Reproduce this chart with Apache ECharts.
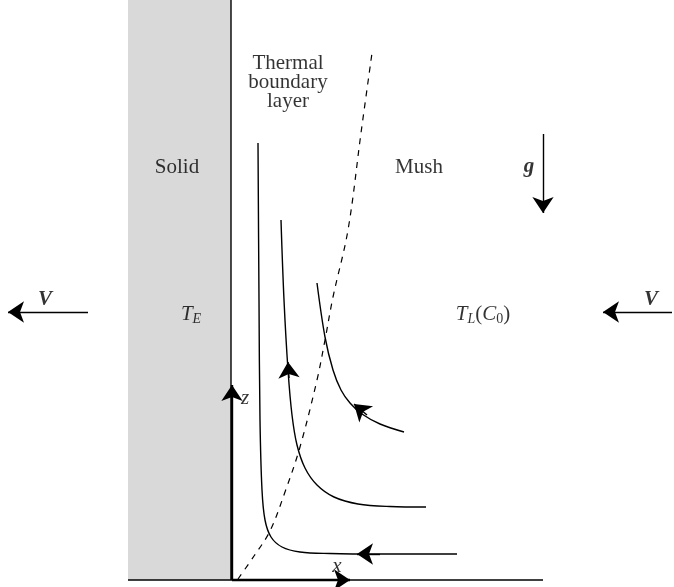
<!DOCTYPE html>
<html>
<head>
<meta charset="utf-8">
<script src="https://cdn.jsdelivr.net/npm/echarts@6/dist/echarts.min.js"></script>
<style>
  html, body { margin: 0; padding: 0; background: #fff; }
  #chart { width: 674px; height: 587px; }
</style>
</head>
<body>
<div id="chart"></div>
<script>
// all positions in picture units (x to the right, y downwards)
const solidRegion = [[128, 0, 231, 580]];
const wallLine = [[231, 0], [231, 580]];
const baseLine = [[128, 580], [543, 580]];
const boundaryLayer = [[238, 579], [254, 556], [270, 531], [285, 492], [300, 447], [317, 380], [325, 340], [333, 297], [348, 230], [361, 133], [372, 53]];
const streamline1 = [[258, 143], [259, 300], [260, 420], [262, 490], [265, 520], [271, 537], [282, 547], [300, 552], [330, 553.5], [380, 554], [457, 554]];
const streamline2 = [[281, 220], [284, 300], [288, 370], [292, 415], [297, 445], [305, 468], [317, 485], [334, 497], [358, 504], [390, 506.5], [426, 507]];
const streamline3 = [[317, 283], [325, 337], [333, 370], [341, 390], [350, 403], [362, 414], [380, 424], [404, 432]];
// arrows: [from, to]
const arrows = [
  [[380, 554], [357, 554]],
  [[289, 378], [288, 362]],
  [[367, 415], [354, 404]],
  [[543, 134], [543, 213]],
  [[88, 312], [8, 312]],
  [[672, 312], [603, 312]]
];
const axisArrows = [
  [[232, 580], [232, 385]],
  [[232, 580], [350, 580]]
];
const plainLabels = [
  { text: 'Thermal', pos: [288, 63] },
  { text: 'boundary', pos: [288, 82] },
  { text: 'layer', pos: [288, 101] },
  { text: 'Solid', pos: [177, 167] },
  { text: 'Mush', pos: [419, 167] }
];
const mathLabels = [
  { text: '{b|g}', pos: [529, 167] },
  { text: '{b|V}', pos: [45, 300] },
  { text: '{b|V}', pos: [651, 300] },
  { text: '{i|T}{s|E}', pos: [191, 314] },
  { text: '{i|T}{s|L}{n|(}{i|C}{n0|0}{n|)}', pos: [483, 314] },
  { text: '{i|z}', pos: [245, 398] },
  { text: '{i|x}', pos: [337, 566] }
];

const FONT = 'Liberation Serif';
const chart = echarts.init(document.getElementById('chart'));

const curve = (data, extra) => Object.assign({
  type: 'line',
  data: data,
  symbol: 'none',
  smooth: 0.35,
  silent: true,
  lineStyle: { color: '#000', width: 1.4 }
}, extra || {});

const option = {
  animation: false,
  backgroundColor: '#fff',
  grid: { left: 0, right: 0, top: 0, bottom: 0 },
  xAxis: { type: 'value', min: 0, max: 674, show: false },
  yAxis: { type: 'value', min: 0, max: 587, inverse: true, show: false },
  series: [
    {
      type: 'custom',
      silent: true,
      data: solidRegion,
      encode: { x: [0, 2], y: [1, 3] },
      renderItem: (params, api) => {
        const p0 = api.coord([api.value(0), api.value(1)]);
        const p1 = api.coord([api.value(2), api.value(3)]);
        return {
          type: 'rect',
          shape: { x: p0[0], y: p0[1], width: p1[0] - p0[0], height: p1[1] - p0[1] },
          style: { fill: '#d9d9d9' }
        };
      }
    },
    curve(wallLine, { smooth: false }),
    curve(baseLine, { smooth: false }),
    curve(boundaryLayer, { lineStyle: { color: '#000', width: 1.2, type: [6, 6] } }),
    curve(streamline1),
    curve(streamline2),
    curve(streamline3),
    {
      type: 'lines',
      coordinateSystem: 'cartesian2d',
      silent: true,
      symbol: ['none', 'arrow'],
      symbolSize: [9, 16],
      lineStyle: { color: '#000', width: 1.4, opacity: 1 },
      data: arrows.map(a => ({ coords: a }))
    },
    {
      type: 'lines',
      coordinateSystem: 'cartesian2d',
      silent: true,
      symbol: ['none', 'arrow'],
      symbolSize: [9, 16],
      lineStyle: { color: '#000', width: 2.4, opacity: 1 },
      data: axisArrows.map(a => ({ coords: a }))
    },
    {
      type: 'scatter',
      silent: true,
      symbolSize: 0,
      data: plainLabels.map(l => ({ value: l.pos, name: l.text })),
      label: {
        show: true,
        position: 'inside',
        formatter: p => p.name,
        color: '#000',
        fontFamily: FONT,
        fontSize: 21
      }
    },
    {
      type: 'scatter',
      silent: true,
      symbolSize: 0,
      data: mathLabels.map(l => ({ value: l.pos, name: l.text })),
      label: {
        show: true,
        position: 'inside',
        formatter: p => p.name,
        color: '#000',
        fontFamily: FONT,
        fontSize: 21,
        rich: {
          b: { fontFamily: FONT, fontSize: 21, fontStyle: 'italic', fontWeight: 'bold', color: '#000' },
          i: { fontFamily: FONT, fontSize: 21, fontStyle: 'italic', color: '#000' },
          n: { fontFamily: FONT, fontSize: 21, color: '#000' },
          s: { fontFamily: FONT, fontSize: 14, fontStyle: 'italic', color: '#000', padding: [10, 0, 0, 0] },
          n0: { fontFamily: FONT, fontSize: 14, color: '#000', padding: [10, 0, 0, 0] }
        }
      }
    }
  ]
};

chart.setOption(option);
</script>
</body>
</html>
